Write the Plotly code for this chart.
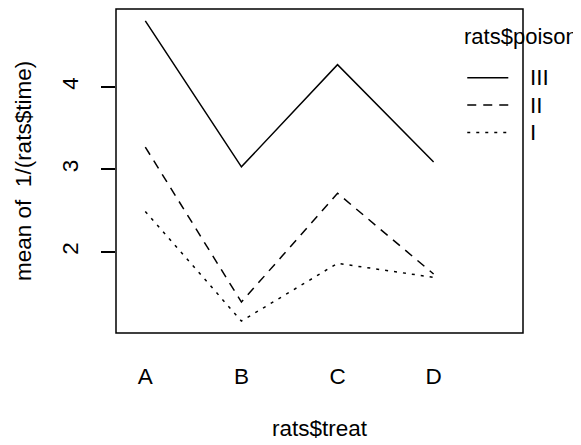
import plotly.graph_objects as go

treat = ["A", "B", "C", "D"]
poison_names = ["III", "II", "I"]
vals_III = [4.80, 3.03, 4.27, 3.09]
vals_II = [3.27, 1.39, 2.71, 1.73]
vals_I = [2.49, 1.16, 1.86, 1.69]
y_ticks = [2, 3, 4]

series = [("III", vals_III, "solid"), ("II", vals_II, "9px,7px"), ("I", vals_I, "3px,6px")]

FONT = "Liberation Sans, Arial, Helvetica, sans-serif"
FS = 22.5

# page is offset by the 8px body margin
OFF = 8
W, H = 581, 445
# desired plot box in page pixels
BX0, BX1, BY0, BY1 = 116, 522.7, 9.3, 333.3
L = BX0 - OFF
T = BY0 - OFF
R = W - (BX1 - OFF)
B = H - (BY1 - OFF)
pw = BX1 - BX0
ph = BY1 - BY0

def px2x(px):
    return (px - BX0) / pw

def py2y(py):
    return (BY1 - py) / ph

fig = go.Figure()
xpos = list(range(1, len(treat) + 1))
for name, vals, dash in series:
    fig.add_trace(go.Scatter(x=xpos, y=vals, mode="lines", name=name,
                             line=dict(color="black", width=1.5, dash=dash),
                             showlegend=False, hoverinfo="skip"))

# plot box
fig.add_shape(type="rect", xref="paper", yref="paper", x0=0, x1=1, y0=0, y1=1,
              line=dict(color="black", width=1.5))

# legend (manual, R style)
fig.add_annotation(x=px2x(462), y=py2y(36.7), xref="paper", yref="paper",
                   text="rats$poison", showarrow=False, xanchor="left", yanchor="middle",
                   font=dict(family=FONT, size=22, color="black"))
leg_y = [78, 105.3, 132.7]
for (name, vals, dash), ly in zip(series, leg_y):
    fig.add_shape(type="line", xref="paper", yref="paper",
                  x0=px2x(467), x1=px2x(508), y0=py2y(ly), y1=py2y(ly),
                  line=dict(color="black", width=1.5, dash=dash))
    fig.add_annotation(x=px2x(528), y=py2y(ly), xref="paper", yref="paper",
                       text=name, showarrow=False, xanchor="left", yanchor="middle",
                       font=dict(family=FONT, size=FS, color="black"))

# axis titles
fig.add_annotation(x=0.5, y=py2y(429), xref="paper", yref="paper", text="rats$treat",
                   showarrow=False, xanchor="center", yanchor="middle",
                   font=dict(family=FONT, size=FS, color="black"))
fig.add_annotation(x=px2x(23), y=0.5, xref="paper", yref="paper", text="mean of  1/(rats$time)",
                   showarrow=False, xanchor="center", yanchor="middle", textangle=-90,
                   font=dict(family=FONT, size=FS, color="black"))

fig.update_layout(
    width=W, height=H,
    margin=dict(l=L, r=R, t=T, b=B, pad=0),
    paper_bgcolor="white", plot_bgcolor="white",
    font=dict(family=FONT, size=FS, color="black"),
    xaxis=dict(range=[0.695, 4.93], tickvals=xpos, ticktext=treat, ticks="",
               showgrid=False, zeroline=False, showline=False,
               ticklabelstandoff=27),
    yaxis=dict(range=[1.015, 4.945], tickvals=y_ticks, ticks="outside", ticklen=14,
               tickwidth=1.5, tickcolor="black", tickangle=-90,
               showgrid=False, zeroline=False, showline=False,
               ticklabelstandoff=14),
)

fig.write_html("out.html")
